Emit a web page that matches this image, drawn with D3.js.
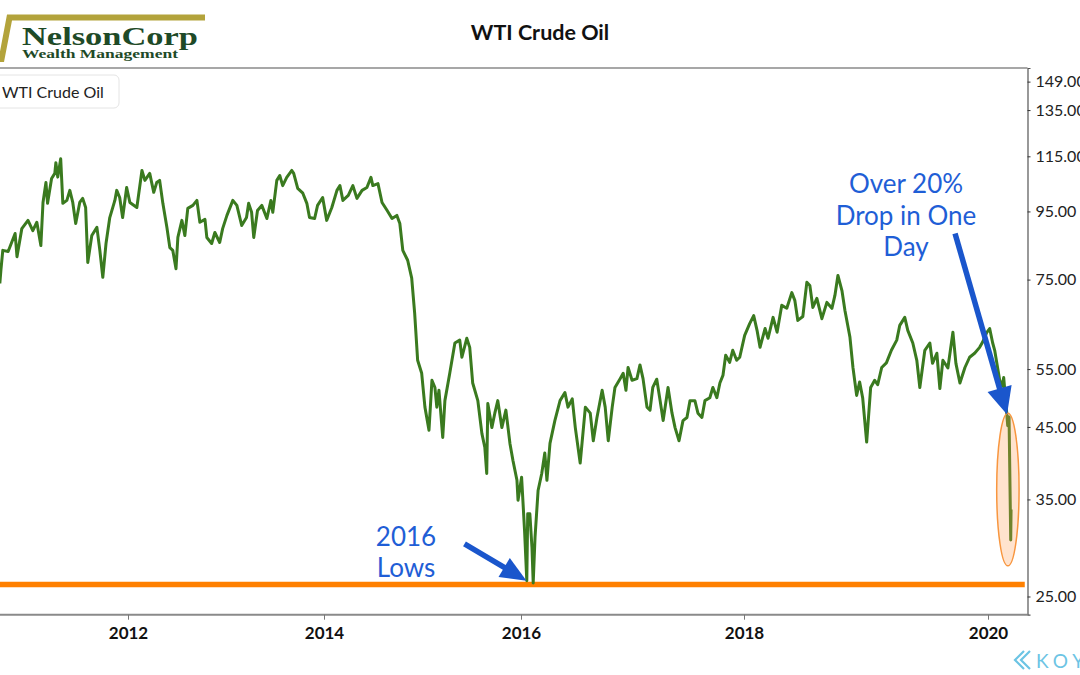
<!DOCTYPE html>
<html><head><meta charset="utf-8">
<script src="https://cdn.jsdelivr.net/npm/d3@7"></script>
<style>
body{margin:0;background:#fff}
svg{display:block}
text{font-family:Lato,"Open Sans",sans-serif}
</style>
</head><body>
<svg id="chart" width="1080" height="675"></svg>
<script>
// ---------- data ----------
const dates = [
"2010-09-10","2010-09-14","2010-09-21","2010-10-11","2010-11-06","2010-11-13","2010-12-01","2010-12-24",
"2011-01-11","2011-01-26","2011-02-10","2011-02-18","2011-03-01","2011-03-07","2011-03-22","2011-04-03","2011-04-07","2011-04-14","2011-04-25",
"2011-05-03","2011-05-18","2011-05-29","2011-06-09","2011-06-20","2011-07-05","2011-07-16","2011-07-27","2011-08-04","2011-08-19",
"2011-09-07","2011-09-18","2011-09-29","2011-10-11","2011-10-25","2011-11-13","2011-11-20","2011-12-01","2011-12-12","2011-12-27",
"2012-01-08","2012-02-03","2012-02-22","2012-03-04","2012-03-22","2012-04-06","2012-04-17","2012-04-28","2012-05-10","2012-05-25",
"2012-06-05","2012-06-16","2012-06-28","2012-07-05","2012-07-20","2012-07-31","2012-08-11","2012-08-30","2012-09-14","2012-09-25",
"2012-10-14","2012-10-21","2012-11-08","2012-11-20","2012-12-08","2012-12-19",
"2013-01-04","2013-01-26","2013-02-10","2013-02-28","2013-03-18","2013-03-26","2013-04-06","2013-04-14","2013-04-28","2013-05-14",
"2013-06-02","2013-06-17","2013-06-24","2013-07-09","2013-07-20","2013-07-31","2013-08-15","2013-09-03","2013-09-10","2013-09-25",
"2013-10-14","2013-10-29","2013-11-08","2013-11-27","2013-12-08","2013-12-27",
"2014-01-11","2014-01-30","2014-02-18","2014-03-01","2014-03-12","2014-04-01","2014-04-18","2014-05-03","2014-05-22","2014-06-09",
"2014-06-24","2014-07-01","2014-07-20","2014-08-04","2014-08-23","2014-09-10","2014-09-28","2014-10-09","2014-10-20","2014-11-07",
"2014-11-22","2014-12-03","2014-12-14","2014-12-29",
"2015-01-10","2015-01-25","2015-02-05","2015-02-16","2015-02-23","2015-03-03","2015-03-17","2015-03-25","2015-04-12","2015-05-01",
"2015-05-19","2015-05-27","2015-06-14","2015-06-25","2015-07-06","2015-07-25","2015-08-09","2015-08-20","2015-08-27","2015-08-31",
"2015-09-15","2015-09-26","2015-10-07","2015-10-22","2015-11-06","2015-11-21","2015-12-02","2015-12-17","2015-12-21",
"2016-01-03","2016-01-13","2016-01-20","2016-01-23","2016-01-30","2016-02-06","2016-02-10","2016-02-16","2016-02-26","2016-03-09",
"2016-03-19","2016-03-26","2016-04-05","2016-04-21","2016-05-08","2016-05-24","2016-06-03","2016-06-17","2016-06-27","2016-07-13",
"2016-07-30","2016-08-15","2016-08-25","2016-09-06","2016-09-23","2016-10-03","2016-10-13","2016-10-26","2016-11-04","2016-11-21",
"2016-12-01","2016-12-10","2016-12-17","2016-12-30",
"2017-01-15","2017-01-25","2017-02-04","2017-02-17","2017-02-27","2017-03-08","2017-03-21","2017-04-01","2017-04-11","2017-04-27",
"2017-05-10","2017-05-20","2017-06-02","2017-06-15","2017-06-28","2017-07-08","2017-07-24","2017-08-03","2017-08-16","2017-08-26",
"2017-09-11","2017-09-21","2017-10-04","2017-10-14","2017-10-24","2017-11-02","2017-11-15","2017-11-25","2017-12-08","2017-12-18",
"2018-01-03","2018-01-18","2018-01-30","2018-02-09","2018-02-18","2018-03-05","2018-03-14","2018-03-29","2018-04-10","2018-04-24",
"2018-05-09","2018-05-24","2018-06-02","2018-06-11","2018-06-26","2018-07-08","2018-07-17","2018-07-26","2018-08-07","2018-08-22",
"2018-09-06","2018-09-21","2018-09-30","2018-10-09","2018-10-21","2018-10-30","2018-11-14","2018-11-23","2018-12-04","2018-12-13",
"2018-12-22",
"2019-01-03","2019-01-15","2019-01-27","2019-02-05","2019-02-17","2019-03-03","2019-03-18","2019-04-03","2019-04-12","2019-04-27",
"2019-05-06","2019-05-21","2019-06-02","2019-06-11","2019-06-26","2019-07-11","2019-07-19","2019-08-01","2019-08-10","2019-08-19",
"2019-09-03","2019-09-18","2019-09-27","2019-10-09","2019-10-24","2019-11-07","2019-11-22","2019-12-07","2019-12-16","2019-12-28",
"2020-01-06","2020-01-15","2020-01-21","2020-02-05","2020-02-12","2020-02-17","2020-02-26","2020-02-29","2020-03-04","2020-03-09","2020-03-10"
];
const wti = [
74.0,77.5,83.0,82.7,88.0,81.2,89.5,92.1,
88.9,91.5,84.4,98.0,105.0,97.7,106.5,108.4,112.5,107.0,114.0,
97.7,98.7,102.2,98.0,91.1,98.0,99.4,96.3,79.6,87.4,
89.9,83.0,75.6,85.0,93.0,98.7,102.2,99.7,93.0,103.2,
98.0,96.3,109.5,105.8,108.4,101.5,105.0,105.8,97.7,89.9,
83.8,83.0,77.9,86.8,92.1,87.4,96.0,97.0,98.7,91.5,
92.4,86.8,85.0,88.3,85.3,89.5,
93.7,98.7,97.0,90.5,93.0,97.7,94.7,86.8,95.3,97.0,
92.7,98.7,94.7,105.8,107.6,103.9,106.9,109.5,108.4,102.9,
101.2,97.7,93.0,92.7,97.0,99.7,
92.1,96.3,102.2,103.9,98.7,100.4,103.9,99.4,102.2,103.2,
106.9,103.9,104.6,98.0,95.3,92.7,93.7,91.1,83.0,80.2,
75.4,66.7,56.7,54.2,
48.2,44.5,52.9,51.6,48.2,51.1,43.4,49.3,54.2,60.2,
60.8,57.3,61.2,59.3,52.4,49.3,44.0,41.9,38.3,48.8,
44.9,47.2,49.3,44.9,47.7,42.5,40.1,37.4,34.9,
37.8,31.2,26.4,33.3,33.3,29.6,26.2,30.7,36.1,38.3,
41.1,37.4,42.5,46.0,49.3,50.7,48.2,49.6,44.9,39.7,
48.2,47.2,42.9,46.5,51.1,48.2,42.9,48.2,51.6,53.2,
54.2,51.1,55.3,52.9,
53.2,55.8,53.2,48.2,47.7,51.6,53.1,49.3,46.0,51.6,
47.2,44.9,42.9,46.0,46.5,49.3,49.3,47.2,46.5,49.3,
49.8,51.6,49.8,52.4,53.8,57.7,56.3,58.7,56.7,57.3,
61.8,64.4,66.2,62.9,59.3,63.3,61.2,65.8,62.5,68.6,
67.9,71.7,69.8,65.1,66.0,74.3,73.5,68.1,70.3,65.5,
69.3,67.9,71.0,76.1,72.2,67.4,61.4,55.3,50.2,52.6,
49.8,
42.7,51.6,52.9,52.1,55.3,56.2,58.7,60.8,64.0,65.8,
62.9,60.2,56.7,51.6,58.7,60.2,56.1,58.1,51.4,56.7,
55.2,62.5,56.1,52.4,55.3,57.3,58.1,59.3,60.4,62.4,
63.3,60.2,58.7,52.9,51.8,53.4,47.2,45.2,46.6,30.4,33.8
];
const xTickDates = ["2012-01-01","2014-01-01","2016-01-01","2018-01-01","2020-01-01"];
const yTicks = [25,35,45,55,75,95,115,135,149];
const lowLevel = 26.05;                       // 2016 lows line
const lowLineSpan = ["2010-09-01","2020-04-20"];
const ellipseDates = ["2020-01-27","2020-04-03"];
const ellipseValues = [27.8,47.2];
const title = "WTI Crude Oil";
const seriesName = "WTI Crude Oil";
const noteLows = ["2016","Lows"];
const noteDrop = ["Over 20%","Drop in One","Day"];

// ---------- layout ----------
const W = 1080, H = 675;
const plot = {left:0, right:1027.5, top:68, bottom:614.7};
const parse = d3.utcParse("%Y-%m-%d");
const data = dates.map((d,i)=>({date:parse(d), v:wti[i]}));

const x = d3.scaleUtc()
  .domain(xTickDates.map(parse))
  .range([128,324,521,744,988]);
const y = d3.scaleLog().domain([23.47,156.2]).range([plot.bottom, plot.top]);

const svg = d3.select("#chart");
svg.append("rect").attr("width",W).attr("height",H).attr("fill","#fff");

// Logo
const serif = "'Liberation Serif','DejaVu Serif',serif";
const logo = svg.append("g");
logo.append("path").attr("d","M7,14.5 L205,14.5 L205,20.5 L12,20.5 L4,62 L-2,62 Z").attr("fill","#b3a33b");
logo.append("text").attr("x",22).attr("y",45).text("NelsonCorp")
  .style("font-family",serif).style("font-weight","bold")
  .style("font-size","25px").attr("fill","#1e4a27").attr("textLength",176).attr("lengthAdjust","spacingAndGlyphs");
logo.append("text").attr("x",22).attr("y",57.5).text("Wealth Management")
  .style("font-family",serif).style("font-weight","bold")
  .style("font-size","11.5px").attr("fill","#1e4a27").attr("textLength",156).attr("lengthAdjust","spacingAndGlyphs");

// Title
svg.append("text").attr("x",540).attr("y",40).attr("text-anchor","middle")
  .attr("font-size",21.5).attr("font-weight","bold").attr("fill","#111").text(title);

// Frame
svg.append("line").attr("x1",plot.left).attr("x2",plot.right).attr("y1",plot.top).attr("y2",plot.top)
  .attr("stroke","#8a8a8a").attr("stroke-width",1.5);
svg.append("line").attr("x1",plot.left).attr("x2",plot.right).attr("y1",plot.bottom).attr("y2",plot.bottom)
  .attr("stroke","#8a8a8a").attr("stroke-width",2);

// Right axis
const ya = svg.append("g").attr("transform",`translate(${plot.right},0)`)
  .call(d3.axisRight(y).tickValues(yTicks).tickFormat(d3.format(".2f")).tickSize(3).tickPadding(5));
ya.select(".domain").attr("stroke","#555").attr("stroke-width",1.2);
ya.selectAll(".tick line").attr("stroke","#333");
ya.selectAll(".tick text").attr("font-size",16).attr("fill","#222").style("font-family","Lato,sans-serif");

// Bottom axis
const xa = svg.append("g").attr("transform",`translate(0,${plot.bottom})`)
  .call(d3.axisBottom(x).tickValues(xTickDates.map(parse)).tickFormat(d3.utcFormat("%Y")).tickSize(5).tickPadding(7));
xa.select(".domain").remove();
xa.selectAll(".tick line").attr("stroke","#777");
xa.selectAll(".tick text").attr("font-size",17).attr("font-weight","bold").attr("fill","#111").style("font-family","Lato,sans-serif");

// Legend box
svg.append("rect").attr("x",-6).attr("y",75).attr("width",125).attr("height",33).attr("rx",5)
  .attr("fill","#fff").attr("stroke","#e4e4e4");
svg.append("text").attr("x",2).attr("y",97.5).attr("font-size",16).attr("fill","#222").text(seriesName);

// 2016 lows line
svg.append("line")
  .attr("x1",x(parse(lowLineSpan[0]))).attr("x2",x(parse(lowLineSpan[1])))
  .attr("y1",y(lowLevel)).attr("y2",y(lowLevel))
  .attr("stroke","#ff8000").attr("stroke-width",5.5);

// Price line
svg.append("path").datum(data)
  .attr("d",d3.line().x(d=>x(d.date)).y(d=>y(d.v)))
  .attr("fill","none").attr("stroke","#3a7a1f").attr("stroke-width",3)
  .attr("stroke-linejoin","round");

// Ellipse highlight
const ex0 = x(parse(ellipseDates[0])), ex1 = x(parse(ellipseDates[1]));
const ey0 = y(ellipseValues[1]), ey1 = y(ellipseValues[0]);
svg.append("ellipse").attr("cx",(ex0+ex1)/2).attr("cy",(ey0+ey1)/2)
  .attr("rx",(ex1-ex0)/2).attr("ry",(ey1-ey0)/2)
  .attr("fill","#ff9a50").attr("fill-opacity",0.28).attr("stroke","#f8963f").attr("stroke-width",1.5);

// Annotations
const blue = "#1a56cc", textBlue = "#1f5ed6";
function arrow(x1,y1,x2,y2,headLen,headHalf){
  const dx=x2-x1, dy=y2-y1, L=Math.hypot(dx,dy), ux=dx/L, uy=dy/L;
  const bx=x2-ux*headLen, by=y2-uy*headLen, nx=-uy, ny=ux;
  svg.append("line").attr("x1",x1).attr("y1",y1).attr("x2",bx+ux*2).attr("y2",by+uy*2)
    .attr("stroke",blue).attr("stroke-width",5.5);
  svg.append("path").attr("d",`M${x2},${y2} L${bx+nx*headHalf},${by+ny*headHalf} L${bx-nx*headHalf},${by-ny*headHalf} Z`)
    .attr("fill",blue);
}
const tipLow = [x(parse("2016-01-19")), y(26.4)];
arrow(tipLow[0]-62, tipLow[1]-37, tipLow[0], tipLow[1], 26, 11);
const tipDrop = [x(parse("2020-02-27")), y(47.0)];
arrow(tipDrop[0]-52, tipDrop[1]-181, tipDrop[0], tipDrop[1], 27, 12.5);

noteLows.forEach((t,i)=>svg.append("text").attr("x",406).attr("y",546+i*31)
  .attr("text-anchor","middle").attr("font-size",26).attr("fill",textBlue).text(t));
noteDrop.forEach((t,i)=>svg.append("text").attr("x",906).attr("y",193+i*31.5)
  .attr("text-anchor","middle").attr("font-size",26).attr("fill",textBlue).text(t));

// KOY watermark
const kc = "#6cc4e4";
svg.append("path").attr("d","M1024,651 L1015,660 L1024,669 M1030,651 L1021,660 L1030,669")
  .attr("fill","none").attr("stroke",kc).attr("stroke-width",2.2);
svg.append("text").attr("x",1036).attr("y",668).attr("font-size",19).attr("letter-spacing",5)
  .attr("fill",kc).text("KOY");
</script>
</body></html>
